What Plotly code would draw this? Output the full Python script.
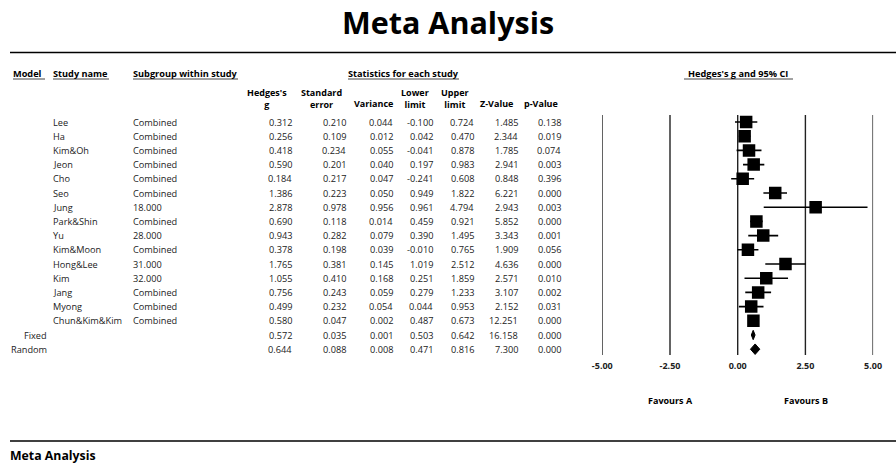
import plotly.graph_objects as go

# Study-level results (Hedges's g with 95% CI)
studies = ["Lee", "Ha", "Kim&Oh", "Jeon", "Cho", "Seo", "Jung", "Park&Shin", "Yu",
           "Kim&Moon", "Hong&Lee", "Kim", "Jang", "Myong", "Chun&Kim&Kim"]
subgroups = ["Combined", "Combined", "Combined", "Combined", "Combined", "Combined", "18.000",
             "Combined", "28.000", "Combined", "31.000", "32.000", "Combined", "Combined", "Combined"]
hedges_g = [0.312, 0.256, 0.418, 0.590, 0.184, 1.386, 2.878, 0.690, 0.943, 0.378, 1.765, 1.055, 0.756, 0.499, 0.580]
std_err = [0.210, 0.109, 0.234, 0.201, 0.217, 0.223, 0.978, 0.118, 0.282, 0.198, 0.381, 0.410, 0.243, 0.232, 0.047]
variance = [0.044, 0.012, 0.055, 0.040, 0.047, 0.050, 0.956, 0.014, 0.079, 0.039, 0.145, 0.168, 0.059, 0.054, 0.002]
lower = [-0.100, 0.042, -0.041, 0.197, -0.241, 0.949, 0.961, 0.459, 0.390, -0.010, 1.019, 0.251, 0.279, 0.044, 0.487]
upper = [0.724, 0.470, 0.878, 0.983, 0.608, 1.822, 4.794, 0.921, 1.495, 0.765, 2.512, 1.859, 1.233, 0.953, 0.673]
z_value = [1.485, 2.344, 1.785, 2.941, 0.848, 6.221, 2.943, 5.852, 3.343, 1.909, 4.636, 2.571, 3.107, 2.152, 12.251]
p_value = [0.138, 0.019, 0.074, 0.003, 0.396, 0.000, 0.003, 0.000, 0.001, 0.056, 0.000, 0.010, 0.002, 0.031, 0.000]

# Pooled results
models = ["Fixed", "Random"]
pooled_g = [0.572, 0.644]
pooled_se = [0.035, 0.088]
pooled_var = [0.001, 0.008]
pooled_lower = [0.503, 0.471]
pooled_upper = [0.642, 0.816]
pooled_z = [16.158, 7.300]
pooled_p = [0.000, 0.000]

axis_ticks = [-5.0, -2.5, 0.0, 2.5, 5.0]
axis_tick_labels = ["-5.00", "-2.50", "0.00", "2.50", "5.00"]

W, H = 896, 464
ROW0, ROW_H = 122.0, 14.2  # pixel centre of first row, row pitch

FONT = "Open Sans"
DATA_COLOR = "#222222"
DATA_SIZE = 9.2


def px(x):
    return x / W


def py(y):
    return 1 - y / H


fig = go.Figure()

# Study squares with confidence intervals
rows = list(range(len(studies)))
fig.add_trace(go.Scatter(
    x=hedges_g, y=rows, mode="markers",
    marker=dict(symbol="square", size=12.5, color="black", line=dict(width=0)),
    error_x=dict(type="data", symmetric=False,
                 array=[u - g for u, g in zip(upper, hedges_g)],
                 arrayminus=[g - l for g, l in zip(hedges_g, lower)],
                 color="black", thickness=1.6, width=0),
    hoverinfo="skip", showlegend=False,
))

# Pooled-estimate diamonds
for k, (g, lo, hi) in enumerate(zip(pooled_g, pooled_lower, pooled_upper)):
    r = len(studies) + k
    hh = 0.33 if k == 0 else 0.37
    fig.add_trace(go.Scatter(
        x=[lo, g, hi, g, lo], y=[r, r - hh, r, r + hh, r],
        mode="lines", fill="toself", fillcolor="black",
        line=dict(color="black", width=1),
        hoverinfo="skip", showlegend=False,
    ))

annotations = []


def txt(x, y, s, anchor="left", size=DATA_SIZE, bold=False, color=DATA_COLOR, yref="paper"):
    annotations.append(dict(
        x=px(x), xref="paper", y=y, yref=yref,
        text=f"<b>{s}</b>" if bold else s,
        showarrow=False, xanchor=anchor, yanchor="middle", align="center",
        borderpad=0, borderwidth=0,
        font=dict(family=FONT, size=size, color=color),
    ))


# Titles
txt(448, py(22), "Meta Analysis", anchor="center", size=30.5, bold=True, color="black")
txt(10, py(455.5), "Meta Analysis", size=12.3, bold=True, color="black")

# Group headers
head_y = py(73)
txt(13, head_y, "Model", bold=True, color="black")
txt(53, head_y, "Study name", bold=True, color="black")
txt(133, head_y, "Subgroup within study", bold=True, color="black")
txt(403, head_y, "Statistics for each study", anchor="center", bold=True, color="black")
txt(738, head_y, "Hedges's g and 95% CI", anchor="center", bold=True, color="black")

# Column headers
col_heads = [
    (267, "Hedges's", "g"), (321.5, "Standard", "error"), (373, "", "Variance"),
    (415, "Lower", "limit"), (455, "Upper", "limit"), (496.5, "", "Z-Value"), (541, "", "p-Value"),
]
for cx, l1, l2 in col_heads:
    if l1:
        txt(cx, py(98), f"<b>{l1}</b><br><b>{l2}</b>", anchor="center", size=9, color="black")
    else:
        txt(cx, py(103.5), l2, anchor="center", size=9, bold=True, color="black")

# Table body
col_right = [292, 346, 393, 433, 474, 517.5, 561]
all_cols = [
    hedges_g + pooled_g, std_err + pooled_se, variance + pooled_var,
    lower + pooled_lower, upper + pooled_upper, z_value + pooled_z, p_value + pooled_p,
]
for i, name in enumerate(studies):
    txt(53, i, name, yref="y")
    txt(133, i, subgroups[i], yref="y")
for k, m in enumerate(models):
    txt(47, len(studies) + k, m, anchor="right", yref="y")
for xr, col in zip(col_right, all_cols):
    for i, v in enumerate(col):
        txt(xr, i, f"{v:.3f}", anchor="right", yref="y")

# Favours labels
txt(670.5, py(400), "Favours A", anchor="center", size=9, bold=True, color="black")
txt(806, py(400), "Favours B", anchor="center", size=9, bold=True, color="black")

shapes = []
# Horizontal rules
for yy in (52.5, 441):
    shapes.append(dict(type="line", xref="paper", yref="paper", x0=px(10), x1=1,
                       y0=py(yy), y1=py(yy), line=dict(color="black", width=1.5)))
# Header underlines
for x0, x1 in [(13, 45), (53, 109), (133, 238), (348, 459), (684, 793)]:
    shapes.append(dict(type="line", xref="paper", yref="paper", x0=px(x0), x1=px(x1),
                       y0=py(79), y1=py(79), line=dict(color="#444444", width=1)))
# Vertical reference lines of the forest plot
for t in axis_ticks:
    shapes.append(dict(type="line", xref="x", yref="paper", x0=t, x1=t,
                       y0=py(115), y1=py(355), line=dict(color="#222222", width=1.4),
                       layer="below"))

# Axis ranges chosen so that rows land on their pixel positions
y_top = (0 - ROW0) / ROW_H
y_bot = (H - ROW0) / ROW_H

fig.update_layout(
    width=W, height=H,
    margin=dict(l=0, r=0, t=0, b=0, pad=0, autoexpand=False),
    paper_bgcolor="white", plot_bgcolor="white",
    annotations=annotations, shapes=shapes,
    xaxis=dict(domain=[px(602.3), px(873.1)], range=[-5, 5],
               anchor="free", position=py(359), automargin=False,
               tickvals=axis_ticks, ticktext=[f"<b>{s}</b>" for s in axis_tick_labels],
               tickfont=dict(family=FONT, size=9, color="#222222"),
               ticks="", showgrid=False, zeroline=False, showline=False, fixedrange=True),
    yaxis=dict(domain=[0, 1], range=[y_bot, y_top], visible=False, fixedrange=True,
               automargin=False),
    showlegend=False,
)

fig.write_html("out.html")
